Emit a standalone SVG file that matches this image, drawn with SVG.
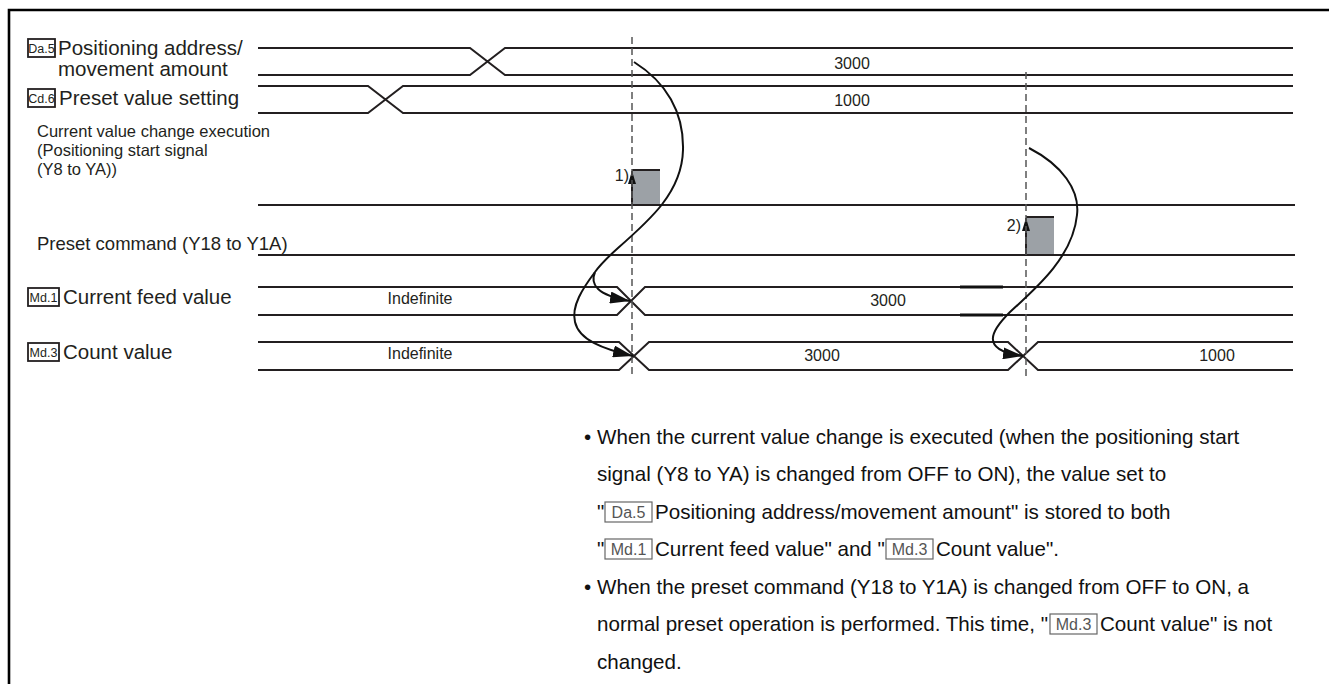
<svg xmlns="http://www.w3.org/2000/svg" width="1329" height="684" viewBox="0 0 1329 684">
<style>
.lbl{font-family:"Liberation Sans",Arial,sans-serif;font-size:20.5px;fill:#231f20}
.lbs{font-family:"Liberation Sans",Arial,sans-serif;font-size:18.5px;fill:#231f20}
.lbt{font-family:"Liberation Sans",Arial,sans-serif;font-size:16.5px;fill:#231f20}
.tag{font-family:"Liberation Sans",Arial,sans-serif;font-size:12.5px;fill:#231f20;text-anchor:middle}
.val{font-family:"Liberation Sans",Arial,sans-serif;font-size:16px;fill:#231f20;text-anchor:middle}
.sig{fill:none;stroke:#231f20;stroke-width:2}
.box{fill:none;stroke:#231f20;stroke-width:1.8}
.dash{fill:none;stroke:#555;stroke-width:1.5;stroke-dasharray:7 4}
.cur{fill:none;stroke:#111;stroke-width:2}
.pulse{fill:#9ca1a6}
.txt{font-family:"Liberation Sans",Arial,sans-serif;font-size:20.6px;fill:#111}
.ibox{fill:none;stroke:#666;stroke-width:1.2}
.itag{font-family:"Liberation Sans",Arial,sans-serif;font-size:16px;fill:#555;text-anchor:middle}
</style>
<defs>
<marker id="ah" markerWidth="20" markerHeight="12" refX="20" refY="6" orient="auto" markerUnits="userSpaceOnUse"><path d="M0,0 L20,6 L0,12 z" fill="#111"/></marker>
<marker id="sa" markerWidth="13" markerHeight="8" refX="13" refY="4" orient="auto" markerUnits="userSpaceOnUse"><path d="M0,0 L13,4 L0,8 z" fill="#111"/></marker>
</defs>
<rect width="1329" height="684" fill="#fff"/>
<g id="frame"><path d="M9,684 V10 H1329" fill="none" stroke="#000" stroke-width="2.6"/></g>

<g id="da5">
<rect class="box" x="28" y="39" width="27" height="18"/>
<text class="tag" x="41.5" y="52.5">Da.5</text>
<text class="lbl" x="58" y="55">Positioning address/</text>
<text class="lbl" x="58" y="75.5">movement amount</text>
<path class="sig" d="M258,48 H470 L505,75 H1293 M258,75 H470 L505,48 H1293"/>
<text class="val" x="852" y="68.5">3000</text>
</g>

<g id="cd6">
<rect class="box" x="28" y="89" width="27" height="18"/>
<text class="tag" x="41.5" y="102.5">Cd.6</text>
<text class="lbl" x="59" y="105">Preset value setting</text>
<path class="sig" d="M258,86 H368 L403,113 H1293 M258,113 H368 L403,86 H1293"/>
<text class="val" x="852" y="105.5">1000</text>
</g>

<g id="start-signal">
<text class="lbt" x="37" y="137">Current value change execution</text>
<text class="lbt" x="37" y="156">(Positioning start signal</text>
<text class="lbt" x="37" y="175">(Y8 to YA))</text>
<rect class="pulse" x="632" y="170" width="28" height="35"/>
<path class="sig" d="M258,205 H1295 M632,170 H660"/>
<path class="sig" d="M632,205 V171" marker-end="url(#sa)"/>
<text class="val" x="629" y="181" style="text-anchor:end">1)</text>
</g>

<g id="preset-command">
<text class="lbs" x="37" y="249.5">Preset command (Y18 to Y1A)</text>
<rect class="pulse" x="1026" y="217" width="28" height="38"/>
<path class="sig" d="M258,255 H1295 M1026,217 H1054"/>
<path class="sig" d="M1026,255 V218" marker-end="url(#sa)"/>
<text class="val" x="1021" y="231" style="text-anchor:end">2)</text>
</g>

<g id="md1">
<rect class="box" x="28" y="288" width="31" height="18"/>
<text class="tag" x="43.5" y="301.5">Md.1</text>
<text class="lbl" x="63" y="304">Current feed value</text>
<path class="sig" d="M258,287 H617 L645,315 H1293 M258,315 H617 L645,287 H1293"/>
<path d="M960,287 H1003 M960,315 H1003" stroke="#111" stroke-width="3"/>
<text class="val" x="420" y="304">Indefinite</text>
<text class="val" x="888" y="306">3000</text>
</g>

<g id="md3">
<rect class="box" x="28" y="343" width="31" height="18"/>
<text class="tag" x="43.5" y="356.5">Md.3</text>
<text class="lbl" x="63" y="359">Count value</text>
<path class="sig" d="M258,342 H619 L649,370 H1008 L1038,342 H1293 M258,370 H619 L649,342 H1008 L1038,370 H1293"/>
<text class="val" x="420" y="359">Indefinite</text>
<text class="val" x="822" y="361">3000</text>
<text class="val" x="1217" y="361">1000</text>
</g>

<g id="connectors">
<path class="dash" d="M632,37 V378"/>
<path class="dash" d="M1026,72 V378"/>
<path class="cur" d="M634,62 C666,82 684,112 683,150 C682,192 650,220 618,248 C608,257 600,265 595,272"/>
<path class="cur" d="M595,272 C590,284 596,295 630,301" marker-end="url(#ah)"/>
<path class="cur" d="M595,272 C583,288 571,306 575,322 C579,340 603,349 633,356" marker-end="url(#ah)"/>
<path class="cur" d="M1029,148 C1062,165 1080,190 1077,215 C1073,255 1040,285 1010,312 C992,330 978,350 1023,356" marker-end="url(#ah)"/>
</g>

<g id="notes">
<text class="txt" x="584" y="444">•</text>
<text class="txt" x="597" y="444">When the current value change is executed (when the positioning start</text>
<text class="txt" x="597" y="481">signal (Y8 to YA) is changed from OFF to ON), the value set to</text>
<text class="txt" x="597" y="519">"</text>
<rect class="ibox" x="605" y="502" width="47" height="20"/>
<text class="itag" x="628.5" y="518">Da.5</text>
<text class="txt" x="655" y="519">Positioning address/movement amount" is stored to both</text>
<text class="txt" x="597" y="556">"</text>
<rect class="ibox" x="605" y="539" width="47" height="20"/>
<text class="itag" x="628.5" y="555">Md.1</text>
<text class="txt" x="655" y="556">Current feed value" and "</text>
<rect class="ibox" x="886" y="539" width="47" height="20"/>
<text class="itag" x="909.5" y="555">Md.3</text>
<text class="txt" x="936" y="556">Count value".</text>
<text class="txt" x="584" y="594">•</text>
<text class="txt" x="597" y="594">When the preset command (Y18 to Y1A) is changed from OFF to ON, a</text>
<text class="txt" x="597" y="631">normal preset operation is performed. This time, "</text>
<rect class="ibox" x="1050" y="614" width="47" height="20"/>
<text class="itag" x="1073.5" y="630">Md.3</text>
<text class="txt" x="1100" y="631">Count value" is not</text>
<text class="txt" x="597" y="669">changed.</text>
</g>
</svg>
